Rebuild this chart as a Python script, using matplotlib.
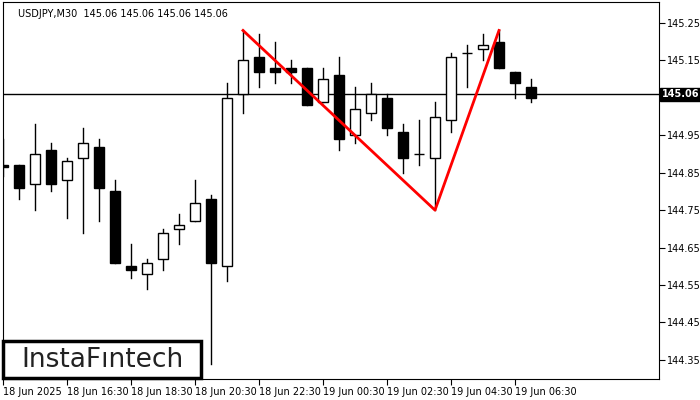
import matplotlib
matplotlib.use("Agg")
import matplotlib.pyplot as plt
from matplotlib.patches import Rectangle

opens  = [144.87,144.87,144.82,144.91,144.83,144.89,144.92,144.80,144.60,144.58,144.62,144.70,144.72,144.78,144.60,145.06,145.16,145.13,145.13,145.13,145.04,145.11,144.95,145.01,145.05,144.96,144.90,144.89,144.99,145.17,145.18,145.20,145.12,145.08]
closes = [144.865,144.81,144.90,144.82,144.88,144.93,144.81,144.61,144.59,144.61,144.69,144.71,144.77,144.61,145.05,145.15,145.12,145.12,145.12,145.03,145.10,144.94,145.02,145.06,144.97,144.89,144.90,145.00,145.16,145.17,145.19,145.13,145.09,145.05]
highs  = [144.94,144.87,144.98,144.93,144.89,144.97,144.94,144.83,144.66,144.62,144.70,144.74,144.83,144.79,145.09,145.23,145.22,145.20,145.15,145.13,145.13,145.16,145.08,145.09,145.06,144.98,144.99,145.04,145.17,145.19,145.22,145.23,145.12,145.10]
lows   = [144.84,144.78,144.75,144.80,144.73,144.69,144.72,144.61,144.57,144.54,144.59,144.66,144.72,144.34,144.56,145.01,145.08,145.09,145.09,145.03,145.04,144.91,144.93,144.99,144.95,144.85,144.87,144.75,144.96,145.08,145.15,145.13,145.05,145.04]
pattern_idx = [15, 27, 31]
pattern_px = [145.23, 144.75, 145.23]
tick_idx = [0, 4, 8, 12, 16, 20, 24, 28, 32]
tick_labels = ["18 Jun 2025","18 Jun 16:30","18 Jun 18:30","18 Jun 20:30","18 Jun 22:30",
               "19 Jun 00:30","19 Jun 02:30","19 Jun 04:30","19 Jun 06:30"]
yticks = [144.35,144.45,144.55,144.65,144.75,144.85,144.95,145.05,145.15,145.25]
current = 145.06

fig = plt.figure(figsize=(7, 4), dpi=100)
ax = fig.add_axes([3/700, 21/400, 656/700, 377/400])
w = 0.6
for i, (o, c, h, l) in enumerate(zip(opens, closes, highs, lows)):
    ax.plot([i, i], [l, h], color="black", lw=1, zorder=2)
    bot, top = min(o, c), max(o, c)
    ax.add_patch(Rectangle((i - w/2, bot), w, max(top - bot, 0.0008),
                           facecolor="black" if c < o else "white",
                           edgecolor="black", lw=1, zorder=3))
ax.axhline(current, color="black", lw=1, zorder=1)
ax.plot(pattern_idx, pattern_px, color="#ff0000", lw=2, zorder=4)
ax.set_xlim(0, 41)
ax.set_ylim(144.299, 145.306)
ax.yaxis.tick_right()
ax.set_yticks(yticks)
ax.set_yticklabels(["" if abs(v - current) < 0.02 else f"{v:.2f}" for v in yticks], fontsize=7)
ax.set_xticks(tick_idx)
ax.set_xticklabels(tick_labels, fontsize=7, ha="left")
ax.tick_params(axis="both", length=4, width=0.8, pad=2)
for s in ax.spines.values():
    s.set_linewidth(0.8)
ax.text(1.004, current, f"{current:.2f}", transform=ax.get_yaxis_transform(),
        fontsize=7, color="white", va="center", ha="left", fontweight="bold",
        bbox=dict(boxstyle="square,pad=0.15", fc="black", ec="black"), zorder=5)
ax.text(15/656, 0.982, "USDJPY,M30  145.06 145.06 145.06 145.06",
        transform=ax.transAxes, fontsize=7, va="top", ha="left")
fig.patches.append(Rectangle((3/700, 22/400), 198/700, 37/400, transform=fig.transFigure,
                             fc="white", ec="black", lw=2.5, zorder=10))
fig.text(102/700, 40/400, "InstaFıntech", fontsize=19, ha="center", va="center",
         color="#222222", zorder=11)
fig.savefig("out.png", dpi=100)
